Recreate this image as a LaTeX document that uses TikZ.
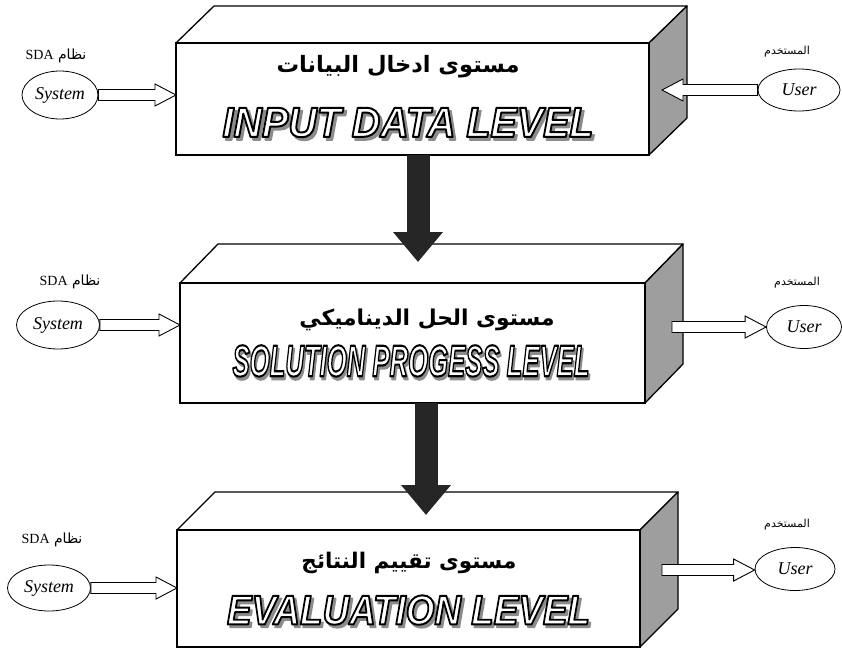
\documentclass[tikz,border=0pt]{standalone}
\usepackage{fontspec}
\usepackage{graphicx}
\usetikzlibrary{arrows.meta,calc,shapes.geometric}
\TeXXeTstate=1
\setmainfont{Liberation Serif}
\newfontfamily\arabicfont[Script=Arabic]{DejaVu Sans}
\newfontfamily\lvlfont{Liberation Sans}
\definecolor{sidegray}{gray}{0.62}
\definecolor{arrowblack}{gray}{0.15}
\definecolor{shadowgray}{gray}{0.55}

% English level titles: letters filled and stroked (text render mode 2)
\newcommand\strokedon{\special{pdf:literal direct 2 Tr 1.7 w 1 j}}
\newcommand\strokedoff{\special{pdf:literal direct 0 Tr}}
% grey drop shadow behind white letters with a black outline
\newcommand\leveltitle[3]{%
  \resizebox{#1}{#2}{\lvlfont\bfseries\itshape\fontsize{36}{36}\selectfont
    \makebox[0pt][l]{\hspace*{2.5pt}\raisebox{-2.5pt}{\color{shadowgray}\strokedon #3\strokedoff}}%
    {\color{white}\special{pdf:literal direct 0 G}\strokedon #3\strokedoff}}}

\tikzset{
  front/.style={draw, line width=1.3pt, fill=white, inner sep=0pt, outer sep=0pt},
  prismedge/.style={draw, line width=1.3pt, line join=round},
  titletext/.style={inner sep=0pt},
  arabictitle/.style={inner sep=0pt, font=\arabicfont\bfseries},
  actor/.style={ellipse, draw, line width=0.8pt, inner sep=0pt, font=\itshape\fontsize{18}{18}\selectfont},
  actorlabel/.style={inner sep=0pt, font=\fontsize{14}{14}\selectfont},
  userlabel/.style={inner sep=0pt, font=\fontsize{11}{11}\selectfont},
  hollowarrow/.style={draw=black, line width=0.9pt, fill=white, line join=miter,
    to path={let \p1=(\tikztostart), \p2=(\tikztotarget), \n1={sign(\x2-\x1)} in
      (\x1,\y1+5.5pt) -- (\x2-\n1*21pt,\y1+5.5pt) -- (\x2-\n1*21pt,\y1+11pt) -- (\x2,\y1)
      -- (\x2-\n1*21pt,\y1-11pt) -- (\x2-\n1*21pt,\y1-5.5pt) -- (\x1,\y1-5.5pt) -- cycle}},
  flowarrow/.style={draw=arrowblack, line width=23pt, -{Triangle[length=30pt,width=48pt]}}
}

% top and side faces of a level prism
\newcommand\prismfaces[3]{%
  \draw[prismedge, fill=white] (#1.north west) -- ++(#2,-#3) -- ($(#1.north east)+(#2,-#3)$) -- (#1.north east) -- cycle;
  \draw[prismedge, fill=sidegray] (#1.north east) -- ++(#2,-#3) -- ($(#1.south east)+(#2,-#3)$) -- (#1.south east) -- cycle;
  \draw[prismedge] (#1.north west) rectangle (#1.south east);}

\begin{document}
\begin{tikzpicture}[x=1pt,y=-1pt]
\useasboundingbox (0,0) rectangle (842,652);

% ---- level prisms ----
\node[front, minimum width=473pt, minimum height=112pt] (f1) at (412.5,99) {};
\prismfaces{f1}{38}{37}
\node[front, minimum width=465pt, minimum height=120pt] (f2) at (412.5,343) {};
\prismfaces{f2}{38}{39}
\node[front, minimum width=463pt, minimum height=117pt] (f3) at (408.5,588.5) {};
\prismfaces{f3}{38}{38}

% ---- Arabic titles ----
\node[arabictitle] (ar1) at (398,67) {\resizebox{243pt}{!}{\beginR مستوى ادخال البيانات\endR}};
\node[arabictitle] (ar2) at (427,320) {\resizebox{255pt}{!}{\beginR مستوى الحل الديناميكي\endR}};
\node[arabictitle] (ar3) at (409,563) {\resizebox{215pt}{!}{\beginR مستوى تقييم النتائج\endR}};

% ---- English titles ----
\node[titletext] (en1) at (408,124) {\leveltitle{371pt}{29pt}{INPUT DATA LEVEL}};
\node[titletext] (en2) at (411,362.5) {\leveltitle{357pt}{31pt}{SOLUTION PROGESS LEVEL}};
\node[titletext] (en3) at (408.5,611.5) {\leveltitle{363pt}{29pt}{EVALUATION LEVEL}};

% ---- system actors (left) ----
\node[actor, minimum width=76pt, minimum height=48pt] (sys1) at (60,95) {System};
\node[actor, minimum width=83pt, minimum height=48pt] (sys2) at (58,325) {System};
\node[actor, minimum width=83pt, minimum height=46pt] (sys3) at (49,588) {System};
\node[actorlabel] (sl1) at (56,56) {\arabicfont\beginR نظام \beginL{\rmfamily SDA}\endL\endR};
\node[actorlabel] (sl2) at (70,282) {\arabicfont\beginR نظام \beginL{\rmfamily SDA}\endL\endR};
\node[actorlabel] (sl3) at (52,540) {\arabicfont\beginR نظام \beginL{\rmfamily SDA}\endL\endR};

% ---- user actors (right) ----
\node[actor, minimum width=82pt, minimum height=42pt] (usr1) at (799,90) {User};
\node[actor, minimum width=75pt, minimum height=43pt] (usr2) at (804,327) {User};
\node[actor, minimum width=80pt, minimum height=43pt] (usr3) at (795,569) {User};
\node[userlabel] (ul1) at (787,52) {\arabicfont\beginR المستخدم\endR};
\node[userlabel] (ul2) at (797,283) {\arabicfont\beginR المستخدم\endR};
\node[userlabel] (ul3) at (787,525) {\arabicfont\beginR المستخدم\endR};

% ---- hollow data arrows ----
\draw[hollowarrow] (sys1.east) to (f1.west |- sys1.east);
\draw[hollowarrow] (sys2.east) to (f2.west |- sys2.east);
\draw[hollowarrow] (sys3.east) to (f3.west |- sys3.east);

\coordinate (u1in) at (662,90);
\coordinate (u2out) at (672,327);
\coordinate (u3out) at (662,570);
\draw[hollowarrow] (usr1.west) to (u1in);
\draw[hollowarrow] (u2out) to (usr2.west);
\draw[hollowarrow] (u3out) to (usr3.west);

% ---- flow between levels ----
\coordinate (d1s) at ($(f1.south)+(5.5,0)$);
\coordinate (d1e) at (418,262);
\coordinate (d2s) at ($(f2.south)+(13.5,0)$);
\coordinate (d2e) at (426,515);
\draw[flowarrow] (d1s) -- (d1e);
\draw[flowarrow] (d2s) -- (d2e);
\end{tikzpicture}
\end{document}
